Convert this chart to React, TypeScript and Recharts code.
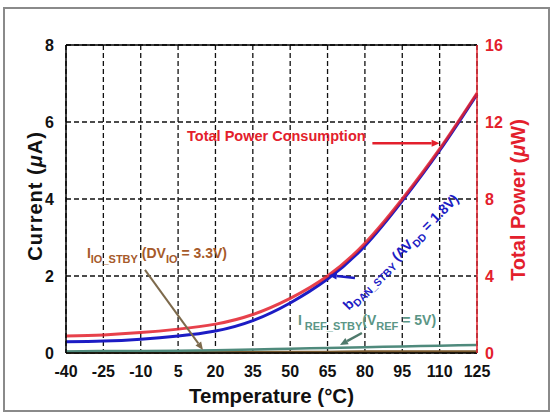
import { LineChart, Line, XAxis, YAxis, CartesianGrid, ReferenceLine, ReferenceDot } from 'recharts';

const temps = [-40, -25, -10, 5, 20, 35, 50, 65, 80, 95, 110, 125];
// total power in uW (right axis)
const totalPower = [0.88, 0.94, 1.06, 1.24, 1.5, 2.0, 2.84, 4.0, 5.7, 8.0, 10.6, 13.5];
// currents in uA (left axis)
const iDanStby = [0.29, 0.31, 0.36, 0.44, 0.57, 0.84, 1.3, 1.92, 2.78, 3.95, 5.26, 6.72];
const iRefStby = [0.04, 0.05, 0.05, 0.06, 0.07, 0.09, 0.11, 0.13, 0.15, 0.17, 0.19, 0.21];
const iIoStby = [0.02, 0.02, 0.02, 0.02, 0.02, 0.02, 0.02, 0.02, 0.03, 0.03, 0.03, 0.03];

const currentTicks = [0, 2, 4, 6, 8];
const powerTicks = [0, 4, 8, 12, 16];

const data = temps.map((t, i) => ({
  t,
  total: totalPower[i],
  dan: iDanStby[i],
  ref: iRefStby[i],
  io: iIoStby[i],
}));

const FONT = '"Liberation Sans", Arial, sans-serif';
const RED = '#e3202c';
const BLUE = '#1c1cc4';
const GREEN = '#4f8a7c';
const BROWN = '#a65a2a';

const arrow = (color: string, width = 2) => (props: any) => {
  const { x1, y1, x2, y2 } = props;
  if ([x1, y1, x2, y2].some((v) => v == null || isNaN(v))) return null;
  const a = Math.atan2(y2 - y1, x2 - x1);
  const L = 8;
  const W = 3.5;
  const bx = x2 - L * Math.cos(a);
  const by = y2 - L * Math.sin(a);
  const p1 = `${bx + W * Math.sin(a)},${by - W * Math.cos(a)}`;
  const p2 = `${bx - W * Math.sin(a)},${by + W * Math.cos(a)}`;
  return (
    <g>
      <line x1={x1} y1={y1} x2={bx} y2={by} stroke={color} strokeWidth={width} />
      <polygon points={`${x2},${y2} ${p1} ${p2}`} fill={color} />
    </g>
  );
};

const label = (render: (x: number, y: number) => any) => (props: any) => {
  const { cx, cy } = props;
  if (cx == null || cy == null) return null;
  return render(cx, cy);
};

export default function App() {
  return (
    <div style={{ position: 'relative', width: 551, height: 415, background: '#fff', fontFamily: FONT }}>
      <style>{`body{margin:0}`}</style>
      <div
        style={{
          position: 'absolute',
          left: 3,
          top: 7,
          width: 543,
          height: 401,
          border: '2px solid #8a8a8a',
        }}
      />
      <div style={{ position: 'absolute', left: 0, top: 0 }}>
        <LineChart width={551} height={415} data={data} margin={{ top: 45, right: 34, bottom: 32, left: 26 }}>
          <CartesianGrid yAxisId="left" stroke="#111" strokeWidth={1.3} strokeDasharray="5 3" />
          <XAxis
            dataKey="t"
            type="number"
            domain={[-40, 125]}
            ticks={temps}
            interval={0}
            height={30}
            tickLine={false}
            tickMargin={7}
            stroke="#000"
            axisLine={{ stroke: '#000', strokeWidth: 1.5 }}
            tick={{ fill: '#111', fontSize: 16, fontWeight: 'bold', fontFamily: FONT }}
            label={{
              content: (p: any) => {
                const vb = p.viewBox || { x: 66, y: 353, width: 411 };
                return (
                  <text x={vb.x + vb.width / 2} y={vb.y + 50} textAnchor="middle" fontSize={20.5} fontWeight="bold" fill="#111" fontFamily={FONT}>
                    Temperature (°C)
                  </text>
                );
              },
            }}
          />
          <YAxis
            yAxisId="left"
            domain={[0, 8]}
            ticks={currentTicks}
            width={40}
            tickLine={false}
            tickMargin={6}
            axisLine={{ stroke: '#000', strokeWidth: 1.5 }}
            tick={{ fill: '#111', fontSize: 16, fontWeight: 'bold', fontFamily: FONT }}
            label={{
              content: (p: any) => {
                const vb = p.viewBox || { x: 26, y: 45, height: 308 };
                const x = vb.x + 16;
                const y = 196;
                return (
                  <text x={x} y={y} transform={`rotate(-90, ${x}, ${y})`} textAnchor="middle" fontSize={20} letterSpacing={1} fontWeight="bold" fill="#111" fontFamily={FONT}>
                    Current (<tspan fontStyle="italic">μ</tspan>A)
                  </text>
                );
              },
            }}
          />
          <YAxis
            yAxisId="right"
            orientation="right"
            domain={[0, 16]}
            ticks={powerTicks}
            width={40}
            tickLine={false}
            tickMargin={2}
            axisLine={{ stroke: RED, strokeWidth: 1.5 }}
            tick={{ fill: RED, fontSize: 16, fontWeight: 'bold', fontFamily: FONT }}
            label={{
              content: (p: any) => {
                const vb = p.viewBox || { x: 477, y: 45, height: 308 };
                const x = vb.x + 48;
                const y = 200;
                return (
                  <text x={x} y={y} transform={`rotate(-90, ${x}, ${y})`} textAnchor="middle" fontSize={20} fontWeight="bold" fill={RED} fontFamily={FONT}>
                    Total Power (<tspan fontStyle="italic">μ</tspan>W)
                  </text>
                );
              },
            }}
          />
          <ReferenceLine yAxisId="left" y={8} stroke="#000" strokeWidth={1.5} />

          <Line yAxisId="left" dataKey="io" type="natural" stroke="#7a5a2e" strokeWidth={3} dot={false} isAnimationActive={false} />
          <Line yAxisId="left" dataKey="ref" type="natural" stroke={GREEN} strokeWidth={2.5} dot={false} isAnimationActive={false} />
          <Line yAxisId="left" dataKey="dan" type="natural" stroke={BLUE} strokeWidth={3} dot={false} isAnimationActive={false} />
          <Line yAxisId="right" dataKey="total" type="natural" stroke={RED} strokeOpacity={0.85} strokeWidth={3} dot={false} isAnimationActive={false} />

          {/* annotations */}
          <ReferenceLine yAxisId="left" segment={[{ x: 83, y: 5.45 }, { x: 110, y: 5.45 }]} shape={arrow(RED, 2.5)} ifOverflow="visible" />
          <ReferenceLine yAxisId="left" segment={[{ x: 76, y: 1.95 }, { x: 65.5, y: 2.02 }]} shape={arrow(BLUE, 2.5)} ifOverflow="visible" />
          <ReferenceLine yAxisId="left" segment={[{ x: 78.8, y: 0.52 }, { x: 70, y: 0.21 }]} shape={arrow('#4f7a6c', 2.5)} ifOverflow="visible" />
          <ReferenceLine yAxisId="left" segment={[{ x: -8.3, y: 2.16 }, { x: 15, y: 0.08 }]} shape={arrow('#7d6a4c', 2)} ifOverflow="visible" />

          <ReferenceDot
            yAxisId="left"
            x={8.6}
            y={5.5}
            ifOverflow="visible"
            shape={label((x, y) => (
              <text x={x} y={y} fontSize={14.5} fontWeight="bold" fill={RED} fontFamily={FONT}>
                Total Power Consumption
              </text>
            ))}
          />
          <ReferenceDot
            yAxisId="left"
            x={73.5}
            y={1.1}
            ifOverflow="visible"
            shape={label((x, y) => (
              <text x={x} y={y} transform={`rotate(-45, ${x}, ${y})`} fontSize={14} fontWeight="bold" fill={BLUE} fontFamily={FONT}>
                <tspan>b</tspan>
                <tspan dy={4} fontSize={10.5}>DAN_STBY</tspan>
                <tspan dy={-4}> (AV</tspan>
                <tspan dy={4} fontSize={10.5}>DD</tspan>
                <tspan dy={-4}> = 1.8V)</tspan>
              </text>
            ))}
          />
          <ReferenceDot
            yAxisId="left"
            x={53.1}
            y={0.73}
            ifOverflow="visible"
            shape={label((x, y) => (
              <text x={x} y={y} fontSize={14} fontWeight="bold" fill="#5b9686" fontFamily={FONT}>
                <tspan>I</tspan>
                <tspan dy={5} fontSize={11}> REF_STBY</tspan>
                <tspan dy={-5}>(V</tspan>
                <tspan dy={5} fontSize={11}>REF</tspan>
                <tspan dy={-5}> = 5V)</tspan>
              </text>
            ))}
          />
          <ReferenceDot
            yAxisId="left"
            x={-31.6}
            y={2.47}
            ifOverflow="visible"
            shape={label((x, y) => (
              <text x={x} y={y} fontSize={14} fontWeight="bold" fill={BROWN} fontFamily={FONT}>
                <tspan>I</tspan>
                <tspan dy={5} fontSize={11}>IO_STBY</tspan>
                <tspan dy={-5}> (DV</tspan>
                <tspan dy={5} fontSize={11}>IO</tspan>
                <tspan dy={-5}> = 3.3V)</tspan>
              </text>
            ))}
          />
        </LineChart>
      </div>
    </div>
  );
}
